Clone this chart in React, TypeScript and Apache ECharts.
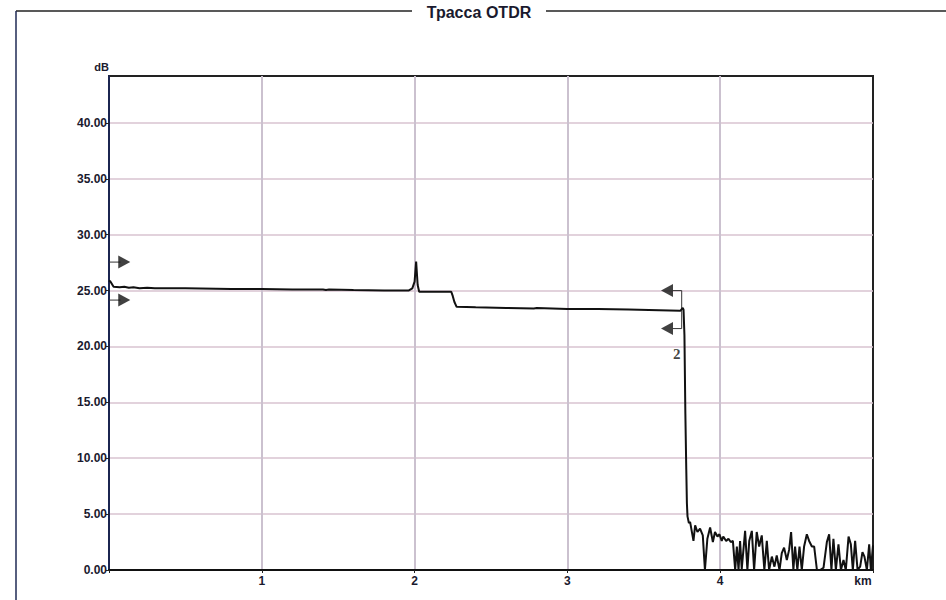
import React, { useEffect, useRef } from "react";
import * as echarts from "echarts";

const TITLE = "Трасса OTDR";
const X_UNIT = "km";
const Y_UNIT = "dB";

// trace: [distance km, level dB]
const traceKm = [
  0, 0.01, 0.03, 0.07, 0.1, 0.13, 0.16, 0.2, 0.25, 0.3, 0.5, 0.8, 1.0, 1.2, 1.4, 1.42, 1.44, 1.6, 1.8, 1.96, 1.985, 2.0, 2.01, 2.02, 2.03,
  2.1, 2.24, 2.25, 2.26, 2.275, 2.4, 2.6, 2.78, 2.8, 3.0, 3.2, 3.4, 3.6, 3.74, 3.755, 3.76, 3.766, 3.772, 3.778, 3.782, 3.786, 3.795,
  3.803, 3.825, 3.836, 3.851, 3.868, 3.886, 3.9, 3.916, 3.934, 3.952, 3.966, 3.982, 3.995, 4.01, 4.02, 4.039, 4.054, 4.069, 4.083,
  4.098, 4.109, 4.12, 4.13, 4.141, 4.163, 4.178, 4.19, 4.207, 4.222, 4.239, 4.255, 4.272, 4.289, 4.305, 4.32, 4.338, 4.355, 4.37,
  4.388, 4.403, 4.418, 4.436, 4.451, 4.464, 4.479, 4.49, 4.505, 4.519, 4.534, 4.549, 4.567, 4.582, 4.6, 4.615, 4.633, 4.654, 4.676,
  4.698, 4.713, 4.728, 4.741, 4.757, 4.774, 4.79, 4.807, 4.822, 4.84, 4.855, 4.868, 4.883, 4.899, 4.916, 4.931, 4.944, 4.96, 4.975,
  4.986, 5.0,
];
const traceDb = [
  25.9, 25.8, 25.35, 25.3, 25.35, 25.25, 25.3, 25.2, 25.25, 25.2, 25.2, 25.15, 25.15, 25.1, 25.1, 25.05, 25.1, 25.05, 25.0, 25.0, 25.2, 25.8, 27.6, 25.5, 24.9,
  24.9, 24.9, 24.5, 24.0, 23.55, 23.5, 23.45, 23.4, 23.45, 23.35, 23.35, 23.3, 23.25, 23.2, 23.45, 23.3, 21.0, 14.0, 9.0, 6.0, 4.8, 4.2,
  4.3, 2.6, 4.0, 3.4, 3.7, 3.1, 0, 2.8, 3.8, 2.5, 3.4, 3.0, 3.2, 2.6, 3.0, 2.6, 2.8, 2.5, 2.6,
  0, 2.1, 0, 2.6, 0.1, 3.5, 0, 2.6, 3.5, 0, 3.4, 2.1, 3.1, 0, 2.6, 0, 1.2, 0.3, 1.3,
  0, 1.5, 2.0, 0.9, 1.8, 3.4, 0, 2.1, 0, 2.1, 0, 2.1, 3.2, 2.6, 2.1, 2.1, 0, 0, 0.2,
  2.5, 3.2, 0, 2.8, 0, 2.3, 0, 0.9, 0, 3.0, 2.3, 0, 2.6, 0, 0.3, 1.6, 1.2, 0, 2.3,
  0, 2.2,
];

// cursor markers
const leftMarkerKm = [0, 0.075];
const leftMarkerArrowKm = 0.1;
const leftMarkerDb = [27.55, 24.15];
const rightMarkerLineKm = [3.69, 3.748];
const rightMarkerArrowKm = 3.652;
const rightMarkerDb = [25.0, 21.6];
const eventLabel = { km: 3.716, db: 19.3, text: "2" };

const X_MIN = 0;
const X_MAX = 5;
const Y_MIN = 0;
const Y_MAX = 44.2;

export default function App() {
  const ref = useRef<HTMLDivElement>(null);

  useEffect(() => {
    if (!ref.current) return;
    const chart = echarts.init(ref.current, undefined, { renderer: "svg" });
    const trace = traceKm.map((k, i) => [k, traceDb[i]]);

    const markerLineStyle = { color: "#333", width: 1 };
    const series: any[] = [
      {
        type: "line",
        data: trace,
        showSymbol: false,
        symbol: "none",
        lineStyle: { color: "#111", width: 2 },
        z: 5,
      },
    ];
    leftMarkerDb.forEach((db) => {
      series.push({
        type: "line",
        data: leftMarkerKm.map((k) => [k, db]),
        symbol: "none",
        lineStyle: markerLineStyle,
        z: 4,
      });
      series.push({
        type: "scatter",
        data: [[leftMarkerArrowKm, db]],
        symbol: "triangle",
        symbolSize: [13, 12],
        symbolRotate: -90,
        itemStyle: { color: "#111" },
        z: 6,
      });
    });
    series.push({
      type: "line",
      data: [
        [rightMarkerLineKm[0], rightMarkerDb[0]],
        [rightMarkerLineKm[1], rightMarkerDb[0]],
        [rightMarkerLineKm[1], rightMarkerDb[1]],
        [rightMarkerLineKm[0], rightMarkerDb[1]],
      ],
      symbol: "none",
      lineStyle: markerLineStyle,
      z: 4,
    });
    rightMarkerDb.forEach((db) => {
      series.push({
        type: "scatter",
        data: [[rightMarkerArrowKm, db]],
        symbol: "triangle",
        symbolSize: [13, 12],
        symbolRotate: 90,
        itemStyle: { color: "#111" },
        z: 6,
      });
    });
    series.push({
      type: "scatter",
      data: [[eventLabel.km, eventLabel.db]],
      symbolSize: 0,
      label: {
        show: true,
        position: "inside",
        formatter: eventLabel.text,
        fontFamily: "Liberation Serif",
        fontWeight: "bold",
        fontSize: 15,
        color: "#111",
      },
      z: 7,
    });

    const labelFont = {
      fontFamily: "Liberation Sans",
      fontWeight: "bold",
      fontSize: 12,
      color: "#1a1a2e",
    };

    chart.setOption({
      animation: false,
      backgroundColor: "#ffffff",
      grid: {
        left: 109,
        right: 73,
        top: 76,
        bottom: 30,
        show: true,
        borderColor: "#222",
        borderWidth: 2,
        backgroundColor: "transparent",
      },
      xAxis: {
        type: "value",
        min: X_MIN,
        max: X_MAX,
        interval: 1,
        axisLine: { show: true, lineStyle: { color: "#111", width: 2 } },
        axisTick: { show: true, length: 3, lineStyle: { color: "#222" } },
        axisLabel: {
          margin: 5,
          ...labelFont,
          formatter: (v: number) => (v === 0 ? "" : v === X_MAX ? "{k|" + X_UNIT + "}" : String(v)),
          rich: {
            k: { ...labelFont, padding: [0, 20, 0, 0] },
          },
        },
        splitLine: { show: true, showMinLine: false, showMaxLine: false, lineStyle: { color: "#cbc1cf", width: 2 } },
      },
      yAxis: {
        type: "value",
        min: Y_MIN,
        max: Y_MAX,
        interval: 5,
        name: Y_UNIT,
        nameLocation: "end",
        nameGap: 4,
        nameTextStyle: { ...labelFont, fontSize: 11, align: "right", padding: [0, 0, 0, 0] },
        axisLine: { show: true, lineStyle: { color: "#1b2550", width: 2 } },
        axisTick: { show: true, length: 3, lineStyle: { color: "#222" } },
        axisLabel: {
          margin: 2,
          showMaxLabel: false,
          ...labelFont,
          formatter: (v: number) => v.toFixed(2),
        },
        splitLine: { show: true, showMinLine: false, showMaxLine: false, lineStyle: { color: "#d9c3d1", width: 1.5 } },
      },
      graphic: [
        {
          type: "line",
          shape: { x1: 16, y1: 11, x2: 946, y2: 11 },
          style: { stroke: "#222", lineWidth: 1.5 },
          z: 1,
        },
        {
          type: "line",
          shape: { x1: 16, y1: 11, x2: 16, y2: 600 },
          style: { stroke: "#1f2a55", lineWidth: 1.5 },
          z: 1,
        },
        {
          type: "rect",
          shape: { x: 412, y: 2, width: 134, height: 18 },
          style: { fill: "#ffffff" },
          z: 2,
        },
        {
          type: "text",
          x: 479,
          y: 12,
          style: {
            text: TITLE,
            fontFamily: "Liberation Sans",
            fontWeight: "bold",
            fontSize: 16,
            fill: "#1a1a2e",
            align: "center",
            verticalAlign: "middle",
          },
          z: 3,
        },
      ],
      series,
    });

    return () => chart.dispose();
  }, []);

  return <div ref={ref} style={{ position: "fixed", left: 0, top: 0, width: 946, height: 600 }} />;
}
